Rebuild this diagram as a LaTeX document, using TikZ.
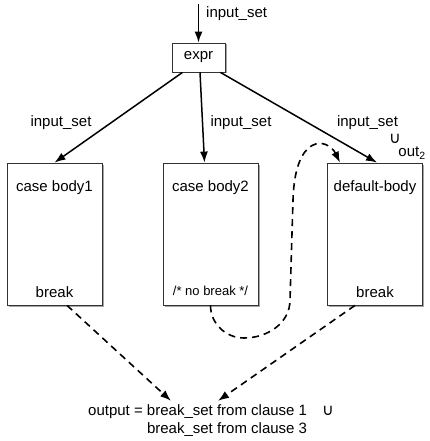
\documentclass[tikz,border=0pt]{standalone}
\usepackage{fontspec}
\setmainfont{Liberation Sans}
\newfontfamily\symfont{DejaVu Sans}
\usetikzlibrary{positioning,arrows.meta,shadows}

\newcommand{\unionsym}{{\symfont\fontsize{16}{18}\selectfont ∪}}

\begin{document}
\begin{tikzpicture}[>={Latex[width=8pt,length=11pt]}, font=\fontsize{15}{18}\selectfont,
  block/.style={draw=black!80, line width=0.8pt, fill=white, minimum width=95pt, minimum height=142pt,
    drop shadow={shadow xshift=1.5pt, shadow yshift=-1.5pt, fill=black, opacity=0.35}},
  test/.style={block, minimum width=53pt, minimum height=29pt, inner sep=0pt},
  flow/.style={->, line width=1.5pt},
  brk/.style={->, line width=1.6pt, dash pattern=on 7pt off 5pt},
  lbl/.style={inner sep=0pt}]
  \useasboundingbox (0pt, 0pt) rectangle (430pt, -441pt);
  \draw (198.5pt, -57.5pt)node[test](expr){expr};
  \draw (54.5pt, -234.0pt)node[block](case1){};
  \draw (210.5pt, -234.0pt)node[block](case2){};
  \draw (375.0pt, -234.0pt)node[block](dflt){};
  \coordinate (in) at (198.5pt, -4.0pt);
  % texts in the bodies
  \path ([yshift=-25pt]case1.north) node[lbl](t1){case body1};
  \path ([yshift=-25pt]case2.north) node[lbl](t2){case body2};
  \path ([yshift=-25pt]dflt.north) node[lbl](t3){default-body};
  \path ([yshift=13pt]case1.south) node[lbl](b1){break};
  \path ([yshift=15pt]case2.south) node[lbl, font=\fontsize{13}{15}\selectfont](b2){/* no break */};
  \path ([yshift=13pt]dflt.south) node[lbl](b3){break};
  % labels
  \draw (206.0pt, -14.0pt)node[lbl, anchor=west](l0){input\_set};
  \draw (61.0pt, -123.0pt)node[lbl](l1){input\_set};
  \draw (241.0pt, -123.0pt)node[lbl](l2){input\_set};
  \draw (367.5pt, -123.0pt)node[lbl](l3){input\_set};
  \draw (395.0pt, -139.0pt)node[lbl](u3){\unionsym};
  \draw (412.0pt, -153.0pt)node[lbl](o3){out\textsubscript{2}};
  \draw (88.0pt, -421.0pt)node[lbl, anchor=west, align=left](out){output = break\_set from clause 1\quad\unionsym\\\hphantom{output =\ }break\_set from clause 3};
  % input flow
  \draw[flow] (in) -- (expr.north);
  \draw[flow] ([xshift=-16pt]expr.south) -- (case1.north);
  \draw[flow] ([xshift=1.5pt]expr.south) -- ([xshift=-6pt]case2.north);
  \draw[flow] ([xshift=-5pt]expr.south east) -- ([xshift=2pt]dflt.north);
  % fall through and breaks
  \draw[brk] (case2.south) to[out=-90, in=180] (244pt, -338pt) to[out=0, in=-90] (290pt, -300pt)
    -- (293pt, -200pt) .. controls (295pt, -132pt) and (328pt, -138pt) .. ([xshift=-35pt]dflt.north);
  \draw[brk] ([xshift=12.5pt]case1.south) -- ([xshift=-40pt, yshift=4pt]out.north);
  \draw[brk] ([xshift=-20pt]dflt.south) -- ([xshift=7pt, yshift=4pt]out.north);
\end{tikzpicture}
\end{document}
